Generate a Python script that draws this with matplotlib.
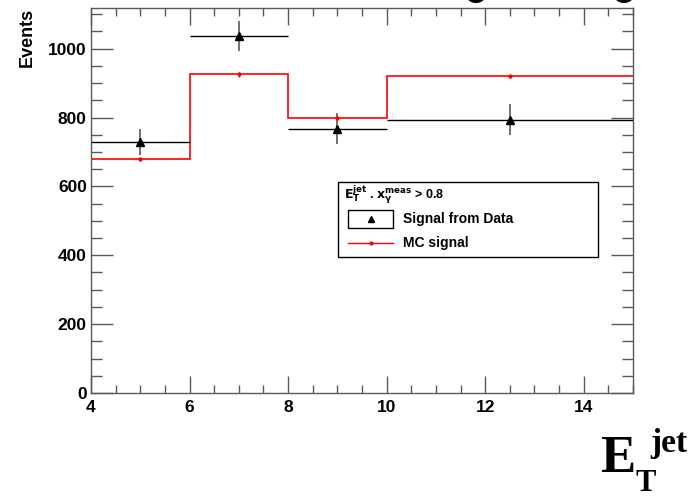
import numpy as np
import matplotlib; matplotlib.use("Agg")
import matplotlib.pyplot as plt
from matplotlib.ticker import MultipleLocator
from matplotlib.patches import Rectangle, Ellipse
from matplotlib.lines import Line2D

# bin edges in E_T^jet and contents
edges = [4, 6, 8, 10, 15]
data = [729, 1036, 767, 793]
data_err = [37, 43, 45, 45]
mc = [680, 925, 798, 920]
mc_err = [5, 6, 6, 6]

plt.rcParams["font.family"] = ["Liberation Sans", "DejaVu Sans"]
plt.rcParams["font.weight"] = "bold"

W, H = 697, 496
fig = plt.figure(figsize=(W/100, H/100), dpi=100)
ax = fig.add_axes([91/W, 1-393/H, 542/W, 385/H])

e = np.array(edges, float)
cen = (e[:-1] + e[1:]) / 2
half = (e[1:] - e[:-1]) / 2

# MC step histogram
ax.stairs(mc, edges, color="red", lw=1.2, baseline=None)
ax.errorbar(cen, mc, yerr=mc_err, fmt="o", color="red", ms=2, lw=1, capsize=0)

# data points with bin-width horizontal bars
ax.errorbar(cen, data, xerr=half, fmt="none", ecolor="black", lw=1, capsize=0)
ax.errorbar(cen, data, yerr=data_err, fmt="^", color="black", ecolor="0.35",
            ms=6, lw=1.2, capsize=0)

ax.set_xlim(4, 15)
ax.set_ylim(0, 1118)
ax.xaxis.set_major_locator(MultipleLocator(2))
ax.xaxis.set_minor_locator(MultipleLocator(0.5))
ax.yaxis.set_major_locator(MultipleLocator(200))
ax.yaxis.set_minor_locator(MultipleLocator(50))
ax.tick_params(which="both", direction="in", top=True, right=True, color="0.35",
               labelsize=12.5, width=1)
ax.tick_params(axis="y", which="major", length=16, pad=3)
ax.tick_params(axis="y", which="minor", length=8)
ax.tick_params(axis="x", which="major", length=12, pad=5)
ax.tick_params(axis="x", which="minor", length=6)
for lab in ax.get_xticklabels() + ax.get_yticklabels():
    lab.set_fontweight("bold")
for sp in ax.spines.values():
    sp.set_color("0.35")
    sp.set_linewidth(1)

ax.set_ylabel("Events", fontsize=13, fontweight="bold")
ax.yaxis.set_label_coords((32-91)/542, 1.0)
ax.yaxis.label.set_ha("right")
ax.yaxis.label.set_va("baseline")

# legend box drawn by hand
ax.add_patch(Rectangle((0.456, 0.353), 0.479, 0.195, transform=ax.transAxes,
                       fill=False, ec="black", lw=1))
ax.text(0.466, 0.515, r"$\mathbf{E_T^{jet}}$ . $\mathbf{x_{\gamma}^{meas}}$ > 0.8",
        transform=ax.transAxes, fontsize=9, fontweight="bold", va="center")
ax.add_patch(Rectangle(((348-91)/542, (393-228)/385), 45/542, 18/385,
                       transform=ax.transAxes, fill=False, ec="black", lw=1))
ax.plot([(370.5-91)/542], [(393-219)/385], "^", color="black", ms=5,
        transform=ax.transAxes)
ax.text((403-91)/542, (393-219)/385, "Signal from Data", transform=ax.transAxes,
        fontsize=10, fontweight="bold", va="center")
ax.add_line(Line2D([(348-91)/542, (393-91)/542], [(393-243)/385]*2, color="red",
                   lw=1, transform=ax.transAxes))
ax.plot([(370.5-91)/542], [(393-243)/385], "o", color="red", ms=2,
        transform=ax.transAxes)
ax.text((403-91)/542, (393-243)/385, "MC signal", transform=ax.transAxes,
        fontsize=10, fontweight="bold", va="center")

# big serif axis title at bottom right
fig.text(600/W, 1-472/H, "E", fontsize=38, fontweight="bold",
         family="Liberation Serif", va="baseline")
fig.text(635/W, 1-491/H, "T", fontsize=22, fontweight="bold",
         family="Liberation Serif", va="baseline")
fig.text(650/W, 1-452/H, "jet", fontsize=24, fontweight="bold",
         family="Liberation Serif", va="baseline")

# bottoms of the slide title letters, cut by the top edge
for xc in (476, 624):
    fig.add_artist(Ellipse((xc/W, 1+10/H), 20/W, 22/H, fill=False, ec="black",
                           lw=3, transform=fig.transFigure))

fig.savefig("out.png", dpi=100)
